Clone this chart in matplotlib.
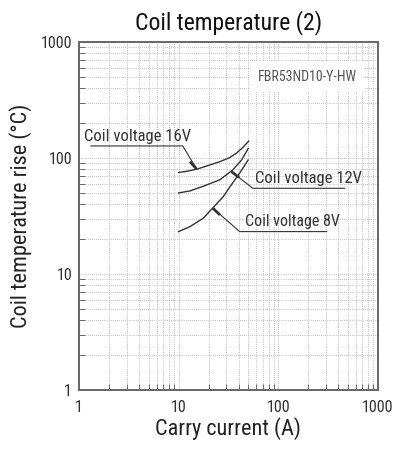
import numpy as np
import matplotlib.pyplot as plt
from matplotlib import font_manager
from matplotlib.ticker import FixedLocator, LogLocator, NullFormatter

names = {f.name for f in font_manager.fontManager.ttflist}
pick = 'Roboto Condensed' if 'Roboto Condensed' in names else 'Open Sans'
plt.rcParams['font.family'] = [pick, 'DejaVu Sans']

# carry current (A) and coil temperature rise (degC)
cur_16v = [10, 12, 15.2, 19.1, 26, 32.7, 38, 44.5, 50.5]
rise_16v = [75, 76.7, 80, 85.3, 93, 101, 110, 124, 140]
cur_12v = [10, 13, 17.6, 26, 35, 42.8, 50]
rise_12v = [50, 52, 57, 65, 79, 96, 121]
cur_8v = [10, 13, 17.6, 22, 28, 33, 41, 49.8]
rise_8v = [23.2, 25.6, 30.2, 37, 46.4, 57, 74, 96]

fig = plt.figure(figsize=(4.02, 4.49), dpi=100)
ax = fig.add_axes([0.1965, 0.1314, 0.7435, 0.7751])

ax.set_xscale('log')
ax.set_yscale('log')
ax.set_xlim(1, 1000)
ax.set_ylim(1, 1000)

ax.grid(True, which='both', color='#aaaaaa', linestyle=(0, (1, 1.5)), linewidth=0.6)
ax.set_axisbelow(True)

for xs, ys in ((cur_16v, rise_16v), (cur_12v, rise_12v), (cur_8v, rise_8v)):
    ax.plot(xs, ys, color='#333333', linewidth=1.0)

ax.xaxis.set_major_locator(FixedLocator([1, 10, 100, 1000]))
ax.yaxis.set_major_locator(FixedLocator([1, 10, 100, 1000]))
ax.xaxis.set_minor_locator(LogLocator(base=10, subs=np.arange(2, 10)))
ax.yaxis.set_minor_locator(LogLocator(base=10, subs=np.arange(2, 10)))
ax.xaxis.set_minor_formatter(NullFormatter())
ax.yaxis.set_minor_formatter(NullFormatter())
ax.set_xticklabels(['1', '10', '100', '1000'])
ax.set_yticklabels(['1', '10', '100', '1000'])
ax.tick_params(which='both', direction='in', color='#555555', labelsize=11.5, labelcolor='#333333')
ax.tick_params(axis='y', which='major', length=0, pad=5)
ax.tick_params(axis='x', which='major', length=0, pad=7)
ax.tick_params(which='minor', length=4)
for s in ax.spines.values():
    s.set_color('#666666')
    s.set_linewidth(1.4)

ax.set_xlabel('Carry current (A)', fontsize=16, color='#222222', labelpad=2)
ax.set_ylabel('Coil temperature rise (\u00b0C)', fontsize=16, color='#222222', labelpad=6)
ax.set_title('Coil temperature (2)', fontsize=17, color='#111111', pad=9)

ax.text(0.93, 0.9, 'FBR53ND10-Y-HW', transform=ax.transAxes, fontsize=10, color='#555555',
        ha='right', va='center',
        bbox=dict(facecolor='white', edgecolor='none', pad=6))

# leader lines with labels
lc = '#333333'
tc = '#333333'
ax.plot([1.32, 11.0, 15.2], [127, 127, 80], color=lc, linewidth=0.8)
ax.plot([13.0, 15.2], [93, 80], color=lc, linewidth=2.0, solid_capstyle='butt')
ax.text(1.12, 140, 'Coil voltage 16V', fontsize=12, color=tc, va='baseline')

ax.plot([34, 55.6, 466], [76, 54.8, 54.8], color=lc, linewidth=0.8)
ax.plot([34, 40.5], [76, 68], color=lc, linewidth=2.0, solid_capstyle='butt')
ax.text(58, 60.9, 'Coil voltage 12V', fontsize=12, color=tc, va='baseline')

ax.plot([22, 41, 307], [37, 23.2, 23.2], color=lc, linewidth=0.8)
ax.plot([22, 26], [37, 32.3], color=lc, linewidth=2.0, solid_capstyle='butt')
ax.text(46, 25.9, 'Coil voltage 8V', fontsize=11.5, color=tc, va='baseline')

fig.savefig('out.png', dpi=100)
